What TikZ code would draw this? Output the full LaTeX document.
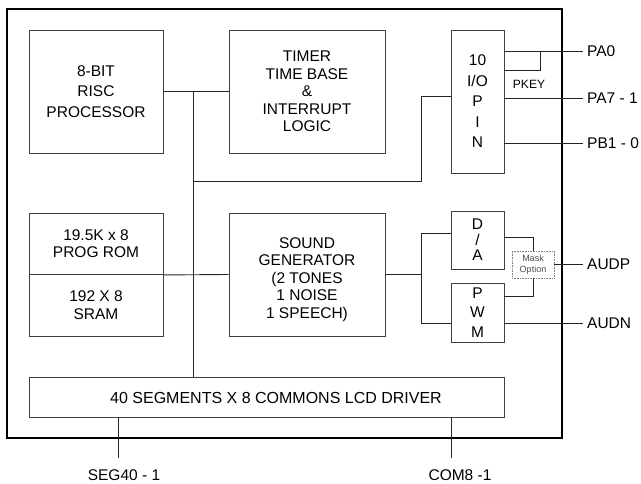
\documentclass[tikz,border=0pt]{standalone}
\usepackage{fontspec}
\setmainfont{Liberation Sans}
\begin{document}
\begin{tikzpicture}[x=1pt,y=-1pt,
  blk/.style={draw=black!75, line width=0.9pt, inner sep=0pt, align=center, font=\fontsize{15.5}{17.5}\selectfont},
  txt/.style={inner sep=0pt, align=center, font=\fontsize{15.5}{17.5}\selectfont},
  wire/.style={line width=0.9pt, draw=black!85},
  pin/.style={anchor=west, inner sep=4pt, font=\fontsize{15.5}{18}\selectfont},
]
\useasboundingbox (0,0) rectangle (641,484);
\node[draw=black, line width=1.8pt, minimum width=555pt, minimum height=429pt, inner sep=0pt] (chip) at (284.5,223.5) {};

\node[blk, minimum width=134pt, minimum height=123pt, font=\fontsize{15.5}{20.5}\selectfont] (proc) at (96,91.5) {8-BIT\\RISC\\PROCESSOR};
\node[blk, minimum width=156pt, minimum height=123pt] (timer) at (307,91.5) {TIMER\\TIME BASE\\\&\\INTERRUPT\\LOGIC};
\node[blk, minimum width=53pt, minimum height=143pt, font=\fontsize{15.5}{20.5}\selectfont] (io) at (477.5,101.5) {10\\I/O\\P\\I\\N};
\node[blk, minimum width=134pt, minimum height=61.5pt] (rom) at (96,243.75) {19.5K x 8\\PROG ROM};
\node[blk, minimum width=134pt, minimum height=61.5pt] (sram) at (96,305.25) {192 X 8\\SRAM};
\node[blk, minimum width=156pt, minimum height=123pt] (sound) at (307,274.5) {};
\node[txt] (soundtxt) at (307,279.5) {SOUND\\GENERATOR\\(2 TONES\\1 NOISE\\1 SPEECH)};
\node[blk, minimum width=53pt, minimum height=58pt, font=\fontsize{15.5}{15.5}\selectfont] (da) at (477.5,240) {D\\/\\A};
\node[blk, minimum width=53pt, minimum height=59pt, font=\fontsize{15.5}{19.5}\selectfont] (pwm) at (477.5,312.5) {P\\W\\M};
\node[draw=black!50, densely dotted, line width=0.6pt, minimum width=42pt, minimum height=27pt, inner sep=0pt, align=center, text=black!70, font=\fontsize{9}{10.5}\selectfont] (mask) at (533,264.5) {Mask\\Option};
\node[blk, minimum width=475pt, minimum height=40pt] (lcd) at (266.5,397) {};
\node[txt, font=\fontsize{16}{18}\selectfont] (lcdtxt) at (276,397.5) {40 SEGMENTS X 8 COMMONS LCD DRIVER};

\node[pin] (pa0) at (583,51) {PA0};
\node[pin] (pa7) at (583,98) {PA7 - 1};
\node[pin] (pb1) at (583,143) {PB1 - 0};
\node[pin] (audp) at (583,264.5) {AUDP};
\node[pin] (audn) at (583,323) {AUDN};

\draw[wire] (proc.east) -- (timer.west);
\coordinate (bt) at (193,91.5);
\draw[wire] (bt) -- (bt |- lcd.north);
\coordinate (iob) at (193,181);
\coordinate (ioc) at (421,181);
\draw[wire] (iob) -- (ioc) |- ([yshift=5.5pt]io.west);
\draw[wire] (rom.south east) -- (sound.west);
\coordinate (dt) at (421,233);
\coordinate (db) at (421,323);
\draw[wire] (da.west |- dt) -- (dt) -- (db) -- (pwm.west |- db);
\draw[wire] (sound.east) -- (sound.east -| dt);
\draw[wire] ([yshift=3pt]da.east) -| (mask.north);
\draw[wire] ([yshift=16.5pt]pwm.east) -| (mask.south);
\draw[wire] (mask.east) -- (audp.west);
\draw[wire] (pwm.east |- audn.west) -- (audn.west);
\draw[wire] (io.east |- pa0.west) -- (pa0.west);
\coordinate (pk) at (540,70);
\draw[wire] (pk |- pa0.west) -- (pk) -- (pk -| io.east);
\node[font=\fontsize{12}{14}\selectfont] (pkey) at (529,84) {PKEY};
\draw[wire] (io.east |- pa7.west) -- (pa7.west);
\draw[wire] (io.east |- pb1.west) -- (pb1.west);

\coordinate (segend) at (118,458);
\draw[wire] (lcd.south -| segend) -- (segend);
\node[font=\fontsize{15.5}{18}\selectfont] (seg) at (124,475) {SEG40 - 1};
\coordinate (comend) at (451,458);
\draw[wire] (lcd.south -| comend) -- (comend);
\node[font=\fontsize{15.5}{18}\selectfont] (com) at (460,475) {COM8 -1};
\end{tikzpicture}
\end{document}
